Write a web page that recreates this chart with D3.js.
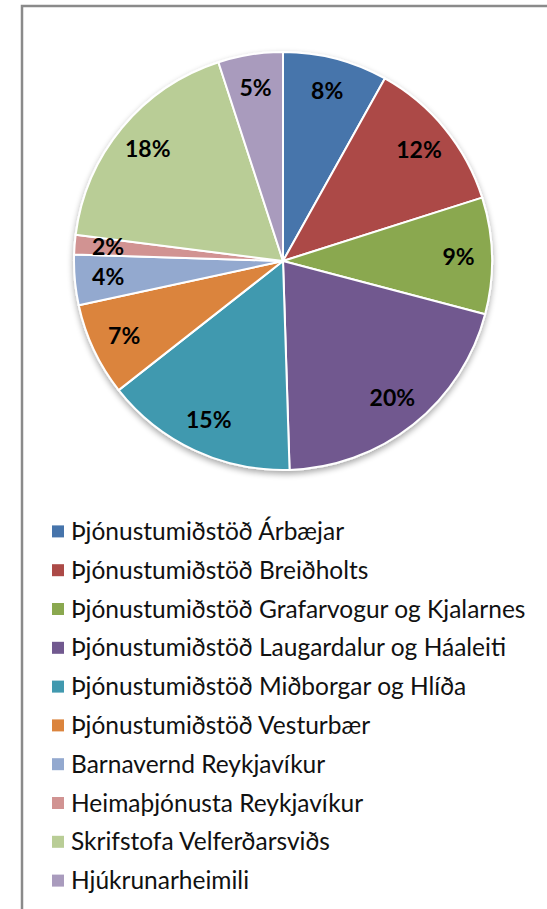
<!DOCTYPE html>
<html>
<head>
<meta charset="utf-8">
<script src="https://cdn.jsdelivr.net/npm/d3@7"></script>
<style>
  body { margin: 0; background: #fff; }
  svg { display: block; }
  .pct { font-family: Lato, "Open Sans", sans-serif; font-weight: bold; font-size: 23px; fill: #000; }
  .leg { font-family: Lato, "Open Sans", sans-serif; font-size: 24.5px; fill: #111; }
</style>
</head>
<body>
<div id="chart"></div>
<script>
// share of each unit, in percent
var categories = [
  "Þjónustumiðstöð Árbæjar",
  "Þjónustumiðstöð Breiðholts",
  "Þjónustumiðstöð Grafarvogur og Kjalarnes",
  "Þjónustumiðstöð Laugardalur og Háaleiti",
  "Þjónustumiðstöð Miðborgar og Hlíða",
  "Þjónustumiðstöð Vesturbær",
  "Barnavernd Reykjavíkur",
  "Heimaþjónusta Reykjavíkur",
  "Skrifstofa Velferðarsviðs",
  "Hjúkrunarheimili"
];
var values = [8.1, 12.0, 9.0, 20.4, 14.9, 7.2, 3.9, 1.5, 18.0, 5.0];
var labels = ["8%", "12%", "9%", "20%", "15%", "7%", "4%", "2%", "18%", "5%"];
var colors = ["#4674AB", "#AC4A47", "#8AA84F", "#71598F", "#4199AF",
              "#DB843D", "#93A9CF", "#D19392", "#B9CD96", "#A99BBD"];

var svgWidth = 547;
var svgHeight = 909;

var mysvg = d3.select("#chart")
    .append("svg")
    .attr("width", svgWidth)
    .attr("height", svgHeight);

// chart frame, runs off the right and bottom edge
mysvg.append("rect")
    .attr("x", 22)
    .attr("y", 6)
    .attr("width", 600)
    .attr("height", 1000)
    .attr("fill", "#fff")
    .attr("stroke", "#8a8a8a")
    .attr("stroke-width", 2.5);

// soft shadow under the pie
var defs = mysvg.append("defs");
var filt = defs.append("filter").attr("id", "shadow")
    .attr("x", "-10%").attr("y", "-10%").attr("width", "120%").attr("height", "125%");
filt.append("feGaussianBlur").attr("in", "SourceAlpha").attr("stdDeviation", 3);
filt.append("feOffset").attr("dx", 0).attr("dy", 3).attr("result", "off");
filt.append("feComponentTransfer").append("feFuncA").attr("type", "linear").attr("slope", 0.35);
var merge = filt.append("feMerge");
merge.append("feMergeNode");
merge.append("feMergeNode").attr("in", "SourceGraphic");

var cx = 283, cy = 261, radius = 209;

var pie = d3.pie().sort(null).value(d => d);
var arcs = pie(values);

var arc = d3.arc().innerRadius(0).outerRadius(radius);
var labelArc = d3.arc().innerRadius(radius * 0.84).outerRadius(radius * 0.84);

var pieGroup = mysvg.append("g")
    .attr("transform", `translate(${cx}, ${cy})`);

pieGroup.append("g")
    .attr("filter", "url(#shadow)")
    .selectAll("path")
    .data(arcs)
    .enter().append("path")
    .attr("d", arc)
    .attr("fill", (d, i) => colors[i])
    .attr("stroke", "#fff")
    .attr("stroke-width", 2)
    .attr("stroke-linejoin", "round");

pieGroup.selectAll("text")
    .data(arcs)
    .enter().append("text")
    .attr("class", "pct")
    .attr("transform", d => `translate(${labelArc.centroid(d)})`)
    .attr("text-anchor", "middle")
    .attr("dy", "0.35em")
    .text((d, i) => labels[i]);

// legend
var legendY = d3.scaleBand()
    .domain(d3.range(categories.length))
    .range([512, 900]);

var legend = mysvg.append("g");
var rows = legend.selectAll("g")
    .data(categories)
    .enter().append("g")
    .attr("transform", (d, i) => `translate(0, ${legendY(i) + legendY.bandwidth() / 2})`);

rows.append("rect")
    .attr("x", 52)
    .attr("y", -6)
    .attr("width", 12)
    .attr("height", 12)
    .attr("fill", (d, i) => colors[i]);

rows.append("text")
    .attr("class", "leg")
    .attr("x", 71)
    .attr("dy", "0.35em")
    .text(d => d);
</script>
</body>
</html>
